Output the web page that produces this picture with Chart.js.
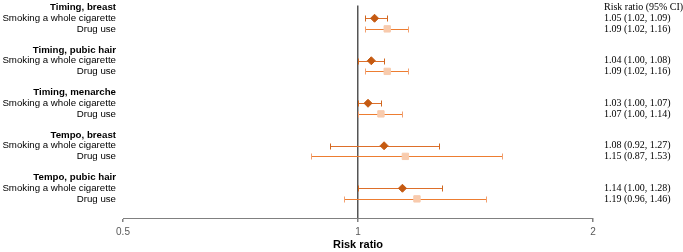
<!DOCTYPE html>
<html><head><meta charset="utf-8">
<script src="https://cdn.jsdelivr.net/npm/chart.js@4/dist/chart.umd.min.js"></script>
<style>html,body{margin:0;padding:0;background:#fff;}canvas{display:block;}</style>
</head><body>
<canvas id="c" width="683" height="252"></canvas>
<script>
const groups = ["Timing, breast","Timing, pubic hair","Timing, menarche","Tempo, breast","Tempo, pubic hair"];
const seriesNames = ["Smoking a whole cigarette","Drug use"];
const smokingRR = [1.05,1.04,1.03,1.08,1.14];
const smokingLo = [1.02,1.00,1.00,0.92,1.00];
const smokingHi = [1.09,1.08,1.07,1.27,1.28];
const drugRR = [1.09,1.09,1.07,1.15,1.19];
const drugLo = [1.02,1.02,1.00,0.87,0.96];
const drugHi = [1.16,1.16,1.14,1.53,1.46];
const xTicks = [0.5,1,2];
const ciHeader = "Risk ratio (95% CI)";

const fmt = v => v.toFixed(2);
const leftLabels = {}, rightLabels = {}, boldRows = new Set();
groups.forEach((g,i)=>{
  const r = i*4;
  leftLabels[r] = g; boldRows.add(r);
  leftLabels[r+1] = seriesNames[0];
  leftLabels[r+2] = seriesNames[1];
  rightLabels[r+1] = fmt(smokingRR[i])+" ("+fmt(smokingLo[i])+", "+fmt(smokingHi[i])+")";
  rightLabels[r+2] = fmt(drugRR[i])+" ("+fmt(drugLo[i])+", "+fmt(drugHi[i])+")";
});
rightLabels[0] = ciHeader;

const smokingPts = smokingRR.map((v,i)=>({x:v,y:i*4+1,lo:smokingLo[i],hi:smokingHi[i]}));
const drugPts = drugRR.map((v,i)=>({x:v,y:i*4+2,lo:drugLo[i],hi:drugHi[i]}));

const errorBars = {
  id:'errorBars',
  beforeDatasetsDraw(chart){
    const ctx = chart.ctx, xs = chart.scales.x, ys = chart.scales.y;
    const specs = [{pts:smokingPts,line:'#DD6F2A',cap:'#D0671F'},{pts:drugPts,line:'#ED7D31',cap:'#F2A070'}];
    ctx.save();
    specs.forEach(s=>{
      s.pts.forEach(p=>{
        const y = Math.round(ys.getPixelForValue(p.y)) + 0.5;
        const x1 = Math.round(xs.getPixelForValue(p.lo)) + 0.5, x2 = Math.round(xs.getPixelForValue(p.hi)) + 0.5;
        ctx.strokeStyle = s.line; ctx.lineWidth = 1;
        ctx.beginPath(); ctx.moveTo(x1,y); ctx.lineTo(x2,y); ctx.stroke();
        ctx.strokeStyle = s.cap;
        ctx.beginPath(); ctx.moveTo(x1,y-3); ctx.lineTo(x1,y+3); ctx.moveTo(x2,y-3); ctx.lineTo(x2,y+3); ctx.stroke();
      });
    });
    ctx.restore();
  }
};

const ciColumn = {
  id:'ciColumn',
  afterDraw(chart){
    const ctx = chart.ctx, ys = chart.scales.y, xs = chart.scales.x;
    const x = xs.getPixelForValue(xTicks[xTicks.length-1]) + 11;
    ctx.save();
    ctx.font = '10px "Liberation Serif"';
    ctx.fillStyle = '#000';
    ctx.textAlign = 'left';
    ctx.textBaseline = 'middle';
    Object.keys(rightLabels).forEach(k=>{
      ctx.fillText(rightLabels[k], x, ys.getPixelForValue(Number(k)));
    });
    ctx.restore();
  }
};

const noPad = s => { s.paddingTop = 0; s.paddingBottom = 0; };

new Chart(document.getElementById('c'),{
  type:'scatter',
  data:{datasets:[
    {label:seriesNames[0],data:smokingPts,pointStyle:'rectRot',pointRadius:4,backgroundColor:'#C55A11',borderColor:'#C55A11',borderWidth:1},
    {label:seriesNames[1],data:drugPts,pointStyle:'rect',pointRadius:4.5,backgroundColor:'#F8CBAD',borderColor:'#F8CBAD',borderWidth:1}
  ]},
  options:{
    responsive:false,animation:false,
    layout:{padding:{top:5,left:0,right:90,bottom:0}},
    plugins:{legend:{display:false},tooltip:{enabled:false}},
    scales:{
      x:{type:'logarithmic',min:0.5,max:2,
        afterBuildTicks(s){s.ticks = xTicks.map(v=>({value:v}));},
        afterFit(s){s.height = 34;},
        ticks:{color:'#595959',font:{family:'Liberation Sans',size:10},padding:4,autoSkip:false,maxRotation:0,callback:v=>String(v)},
        grid:{drawOnChartArea:true,color:c=>c.tick&&c.tick.value===1?'#555555':'rgba(0,0,0,0)',lineWidth:1.5,tickColor:'#808080',tickLength:4,drawTicks:true},
        border:{display:true,color:'#808080',width:1},
        title:{display:true,text:'Risk ratio',color:'#000',font:{family:'Liberation Sans',size:11,weight:'bold'},padding:{top:0,bottom:0}}
      },
      y:{type:'linear',reverse:true,min:-0.2,max:19.8,position:'left',
        afterBuildTicks(s){const t=[];for(let i=0;i<19;i++) if(leftLabels[i]) t.push({value:i}); s.ticks=t;},
        afterFit(s){s.width = 123; noPad(s);},
        ticks:{autoSkip:false,padding:7,color:'#000',
          callback:v=>leftLabels[v]||'',
          font:c=>({family:'Liberation Sans',size:9.7,weight:boldRows.has(c.tick&&c.tick.value)?'bold':'normal'})},
        grid:{display:false,drawTicks:false},border:{display:false}
      }
    }
  },
  plugins:[errorBars,ciColumn]
});
</script>
</body></html>
